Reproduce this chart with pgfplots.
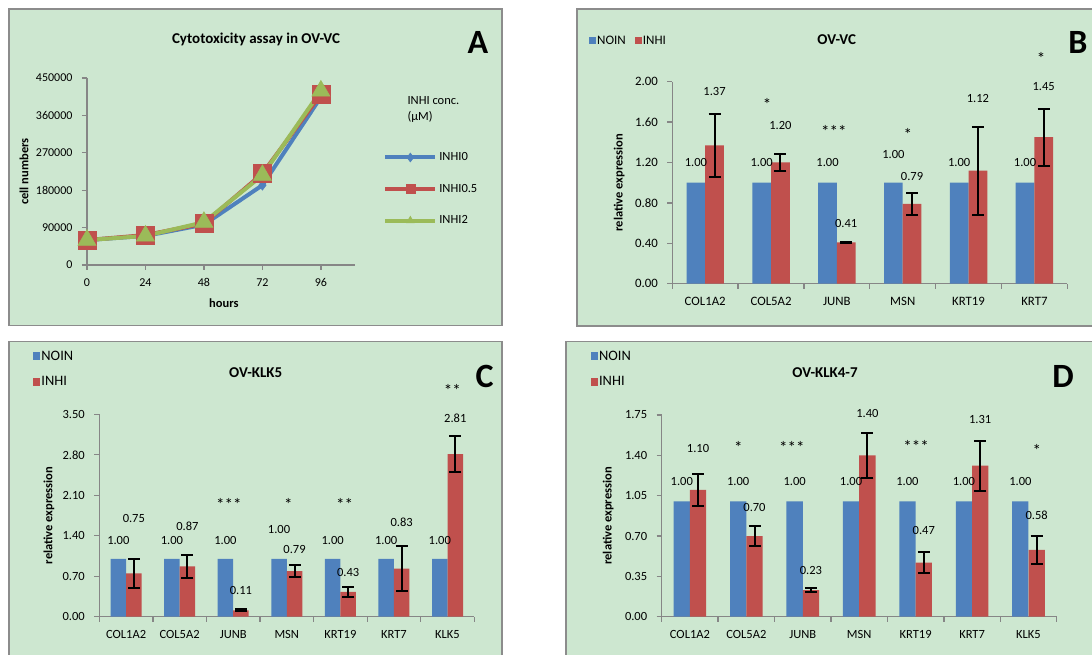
\documentclass[border=0pt]{standalone}
\usepackage{pgfplots}
\pgfplotsset{compat=1.18}
\usepackage{pgfplotstable}
\usepackage{fontspec}
\setmainfont{Carlito}
\definecolor{bgg}{RGB}{205,231,208}
\definecolor{frm}{RGB}{140,140,140}
\definecolor{axg}{RGB}{134,134,134}
\definecolor{xblue}{RGB}{79,129,189}
\definecolor{xred}{RGB}{192,80,77}
\definecolor{xgreen}{RGB}{155,187,89}
\newcommand\fs[1]{\fontsize{#1}{#1}\selectfont}

\pgfplotstableread{
h i0 i05 i2
0 60000 60000 60000
24 70000 72000 70000
48 97000 100000 103000
72 192000 220000 216000
96 404000 411000 419000
}\tblA

\pgfplotstableread{
x noin inhi err lyn lyi labn labi
0 1.00 1.37 0.31 1.20 1.90 1.00 1.37
1 1.00 1.20 0.08 1.20 1.57 1.00 1.20
2 1.00 0.41 0.005 1.20 0.60 1.00 0.41
3 1.00 0.79 0.11 1.277 1.066 1.00 0.79
4 1.00 1.12 0.435 1.20 1.83 1.00 1.12
5 1.00 1.45 0.28 1.20 1.95 1.00 1.45
}\tblB
\pgfplotstableread{
x y s
0.939 1.77 *
1.955 1.51 ***
3.077 1.48 *
5.103 2.23 *
}\starB

\pgfplotstableread{
x noin inhi err lyn lyi labn labi
0 1.00 0.75 0.255 1.326 1.69 1.00 0.75
1 1.00 0.87 0.20 1.326 1.57 1.00 0.87
2 1.00 0.11 0.02 1.326 0.45 1.00 0.11
3 1.00 0.79 0.11 1.516 1.17 1.00 0.79
4 1.00 0.43 0.087 1.326 0.76 1.00 0.43
5 1.00 0.83 0.39 1.326 1.626 1.00 0.83
6 1.00 2.81 0.31 1.326 3.425 1.00 2.81
}\tblC
\pgfplotstableread{
x y s
1.92 1.94 ***
3.03 1.94 *
4.08 1.94 **
6.09 3.92 **
}\starC

\pgfplotstableread{
x noin inhi err lyn lyi labn labi
0 1.00 1.10 0.136 1.169 1.458 1.00 1.10
1 1.00 0.70 0.09 1.169 0.946 1.00 0.70
2 1.00 0.23 0.02 1.169 0.40 1.00 0.23
3 1.00 1.40 0.195 1.169 1.76 1.00 1.40
4 1.00 0.47 0.093 1.169 0.746 1.00 0.47
5 1.00 1.31 0.217 1.169 1.715 1.00 1.31
6 1.00 0.58 0.12 1.169 0.876 1.00 0.58
}\tblD
\pgfplotstableread{
x y s
0.858 1.47 *
1.805 1.47 ***
4.009 1.478 ***
6.149 1.44 *
}\starD

\pgfplotsset{
  panel/.style={scale only axis, anchor=south west, clip=false,
    axis x line*=bottom, axis y line*=left,
    axis line style={-, axg, line width=1.3pt},
    tick style={axg, line width=1.3pt},
    major tick length=5pt, tick align=outside,
    minor tick num=0,
    /pgf/number format/assume math mode=true,
    ticklabel style={font=\fs{12.8}, text=black},
    yticklabel style={xshift=-6pt},
    xticklabel style={yshift=-5pt},
    ylabel style={font=\bfseries\fs{12.5}, anchor=center},
    xlabel style={font=\bfseries\fs{12.5}, anchor=center},
  },
  bars/.style={panel, ymin=0, x tick label as interval,
    yticklabel style={/pgf/number format/fixed, /pgf/number format/precision=2, /pgf/number format/fixed zerofill},
    legend cell align=left,
  },
  lab/.style={forget plot, draw=none, mark=none, nodes near coords,
    point meta=explicit symbolic, nodes near coords align=center,
    nodes near coords style={anchor=center, font=\fs{12.5}, text=black, inner sep=0pt}},
  star/.style={lab, nodes near coords style={font=\fs{17}}},
  ebar/.style={error bars/.cd, y dir=both, y explicit,
    error bar style={black, line width=2pt},
    error mark options={black, rotate=90, mark size=6pt, line width=2pt}},
}

\begin{document}
\begin{tikzpicture}
\useasboundingbox (0pt,0pt) rectangle (1092pt,654pt);
\clip (0pt,0pt) rectangle (1092pt,654pt);
\fill[white] (0pt,0pt) rectangle (1092pt,654pt);
% frames
\draw[frm, line width=1.6pt, fill=bgg] (9pt,645pt) rectangle (502pt,328.3pt);
\draw[frm, line width=1.6pt, fill=bgg] (576.7pt,644.7pt) rectangle (1110pt,328pt);
\draw[frm, line width=1.6pt, fill=bgg] (9pt,312.3pt) rectangle (502pt,-20pt);
\draw[frm, line width=1.6pt, fill=bgg] (566pt,312.3pt) rectangle (1110pt,-20pt);

% ---------------- A
\begin{axis}[panel, at={(87pt,389pt)}, width=268pt, height=187pt,
  xmin=0, xmax=110, ymin=0, ymax=450000,
  xtick={0,24,48,72,96}, ytick={0,90000,180000,270000,360000,450000},
  scaled y ticks=false,
  yticklabel style={/pgf/number format/fixed, /pgf/number format/1000 sep={}},
  ticklabel style={font=\fs{12}},
  xlabel={hours}, ylabel={cell numbers},
  xlabel style={at={([yshift=-38pt]rel axis cs:0.511,0)}},
  ylabel style={at={([xshift=-63pt]rel axis cs:0,0.5)}},
  legend image code/.code={\draw[#1, mark size=4.5pt, mark repeat=2, mark phase=2] plot coordinates {(0pt,0pt) (25pt,0pt) (50pt,0pt)};},
  legend style={at={(1.105,0.406)}, anchor=west, draw=none, fill=none, inner sep=0pt,
    row sep=18pt, font=\fs{12.5}, nodes={inner sep=2pt}},
  legend cell align=left,
]
\addplot[xblue, line width=4pt, mark=diamond*, mark size=5pt, mark options={line width=0.5pt}] table[x=h,y=i0]{\tblA};
\addlegendentry{INHI0}
\addplot[xred, line width=4pt, mark=square*, mark size=9pt, mark options={line width=0.5pt}] table[x=h,y=i05]{\tblA};
\addlegendentry{INHI0.5}
\addplot[xgreen, line width=4pt, mark=triangle*, mark size=10.5pt, mark options={line width=0.5pt}] table[x=h,y=i2]{\tblA};
\addlegendentry{INHI2}
\end{axis}
\node[font=\bfseries\fs{15}] at (256pt,615pt) {Cytotoxicity assay in OV-VC};
\node[font=\bfseries\fs{34}] at (478pt,611.5pt) {A};
\node[font=\fs{12.5}, anchor=west] at (404pt,553.3pt) {INHI conc.};
\node[font=\fs{12.5}, anchor=west] at (404pt,537.3pt) {(µM)};

% ---------------- B
\begin{axis}[bars, at={(672.3pt,370.3pt)}, width=395pt, height=202pt,
  xmin=-0.5, xmax=5.5, ymax=2,
  ytick={0,0.4,0.8,1.2,1.6,2},
  xtick={-0.5,0.5,1.5,2.5,3.5,4.5,5.5},
  xticklabels={COL1A2,COL5A2,JUNB,MSN,KRT19,KRT7},
  ylabel={relative expression},
  ylabel style={at={([xshift=-53pt]rel axis cs:0,0.5)}},
  legend columns=2,
  legend style={at={(-0.211,1.2015)}, anchor=west, draw=none, fill=none, inner sep=0pt,
    font=\fs{13}, nodes={inner sep=1pt}, /tikz/every even column/.append style={column sep=8pt}},
]
\addplot[ybar, bar width=18.7pt, bar shift=0pt, fill=xblue, draw=none,
  legend image code/.code={\fill[xblue] (0pt,-3.5pt) rectangle (7pt,3.5pt);}] table[x expr=\thisrow{x}-0.142,y=noin]{\tblB};
\addlegendentry{NOIN}
\addplot[ybar, bar width=18.7pt, bar shift=0pt, fill=xred, draw=none,
  legend image code/.code={\fill[xred] (0pt,-3.5pt) rectangle (7pt,3.5pt);}, ebar] table[x expr=\thisrow{x}+0.142,y=inhi,y error=err]{\tblB};
\addlegendentry{INHI}
\addplot[lab] table[x expr=\thisrow{x}-0.142, y=lyn, meta=labn]{\tblB};
\addplot[lab] table[x expr=\thisrow{x}+0.142, y=lyi, meta=labi]{\tblB};
\addplot[star] table[x=x, y=y, meta=s]{\starB};
\end{axis}
\node[font=\bfseries\fs{15}] at (836.7pt,614.7pt) {OV-VC};
\node[font=\bfseries\fs{34}] at (1077.8pt,611.5pt) {B};

% ---------------- C
\begin{axis}[bars, at={(99.3pt,37.3pt)}, width=375pt, height=202.4pt,
  xmin=-0.5, xmax=6.5, ymax=3.5,
  ytick={0,0.7,1.4,2.1,2.8,3.5},
  xtick={-0.5,0.5,1.5,2.5,3.5,4.5,5.5,6.5},
  xticklabels={COL1A2,COL5A2,JUNB,MSN,KRT19,KRT7,KLK5},
  ticklabel style={font=\fs{12.5}},
  ylabel={relative expression},
  ylabel style={at={([xshift=-50.3pt]rel axis cs:0,0.5)}},
  legend style={at={(-0.177,1.224)}, anchor=west, draw=none, fill=none, inner sep=0pt,
    font=\fs{14.4}, nodes={inner sep=1pt}, row sep=13pt},
]
\addplot[ybar, bar width=15.5pt, bar shift=0pt, fill=xblue, draw=none,
  legend image code/.code={\fill[xblue] (0pt,-4pt) rectangle (7.3pt,4pt);}] table[x expr=\thisrow{x}-0.1446,y=noin]{\tblC};
\addlegendentry{NOIN}
\addplot[ybar, bar width=15.5pt, bar shift=0pt, fill=xred, draw=none,
  legend image code/.code={\fill[xred] (0pt,-4pt) rectangle (7.3pt,4pt);}, ebar] table[x expr=\thisrow{x}+0.1446,y=inhi,y error=err]{\tblC};
\addlegendentry{INHI}
\addplot[lab] table[x expr=\thisrow{x}-0.1446, y=lyn, meta=labn]{\tblC};
\addplot[lab] table[x expr=\thisrow{x}+0.1446, y=lyi, meta=labi]{\tblC};
\addplot[star] table[x=x, y=y, meta=s]{\starC};
\end{axis}
\node[font=\bfseries\fs{15}] at (255.7pt,281.7pt) {OV-KLK5};
\node[font=\bfseries\fs{34}] at (484.7pt,277.8pt) {C};

% ---------------- D
\begin{axis}[bars, at={(661.7pt,37.3pt)}, width=395pt, height=201.7pt,
  xmin=-0.5, xmax=6.5, ymax=1.75,
  ytick={0,0.35,0.7,1.05,1.4,1.75},
  xtick={-0.5,0.5,1.5,2.5,3.5,4.5,5.5,6.5},
  xticklabels={COL1A2,COL5A2,JUNB,MSN,KRT19,KRT7,KLK5},
  ticklabel style={font=\fs{12.5}},
  ylabel={relative expression},
  ylabel style={at={([xshift=-53.4pt]rel axis cs:0,0.5)}},
  legend style={at={(-0.18,1.228)}, anchor=west, draw=none, fill=none, inner sep=0pt,
    font=\fs{14.4}, nodes={inner sep=1pt}, row sep=13pt},
]
\addplot[ybar, bar width=16.3pt, bar shift=0pt, fill=xblue, draw=none,
  legend image code/.code={\fill[xblue] (0pt,-4pt) rectangle (7.3pt,4pt);}] table[x expr=\thisrow{x}-0.1445,y=noin]{\tblD};
\addlegendentry{NOIN}
\addplot[ybar, bar width=16.3pt, bar shift=0pt, fill=xred, draw=none,
  legend image code/.code={\fill[xred] (0pt,-4pt) rectangle (7.3pt,4pt);}, ebar] table[x expr=\thisrow{x}+0.1445,y=inhi,y error=err]{\tblD};
\addlegendentry{INHI}
\addplot[lab] table[x expr=\thisrow{x}-0.1445, y=lyn, meta=labn]{\tblD};
\addplot[lab] table[x expr=\thisrow{x}+0.1445, y=lyi, meta=labi]{\tblD};
\addplot[star] table[x=x, y=y, meta=s]{\starD};
\end{axis}
\node[font=\bfseries\fs{15}] at (825pt,281.7pt) {OV-KLK4-7};
\node[font=\bfseries\fs{34}] at (1063pt,277.8pt) {D};
\end{tikzpicture}
\end{document}
